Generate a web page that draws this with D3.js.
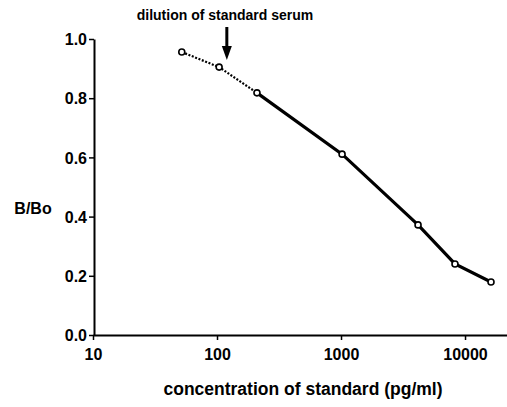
<!DOCTYPE html>
<html>
<head>
<meta charset="utf-8">
<script src="https://cdn.jsdelivr.net/npm/d3@7"></script>
<style>
  body { margin: 0; background: #fff; }
  text { font-family: "Liberation Sans", Arial, sans-serif; font-weight: bold; fill: #000; }
</style>
</head>
<body>
<script>
// standard curve, B/Bo vs concentration
var conc = [52, 104, 210, 1020, 4180, 8300, 16200];
var ratio = [0.956, 0.905, 0.818, 0.611, 0.372, 0.240, 0.179];
var dilutedCount = 3; // first points joined by the dotted line
var xTicks = [10, 100, 1000, 10000];
var yTicks = [0, 0.2, 0.4, 0.6, 0.8, 1.0];
var arrowAt = 120;

var width = 507, height = 407;
var svg = d3.select('body').append('svg')
    .attr('width', width)
    .attr('height', height);

var x = d3.scaleLog().domain([10, 21800]).range([93, 507]);
var y = d3.scaleLinear().domain([0, 1]).range([335, 39]);

var pts = conc.map(function(c, i){ return {c: c, r: ratio[i]}; });

// axes
var xAxis = d3.axisBottom(x).tickValues(xTicks).tickFormat(d3.format('d')).tickSize(5).tickSizeOuter(0).tickPadding(9);
var yAxis = d3.axisLeft(y).tickValues(yTicks).tickFormat(d3.format('.1f')).tickSize(5).tickSizeOuter(0).tickPadding(2);

var gx = svg.append('g').attr('transform', 'translate(0,335)').call(xAxis);
var gy = svg.append('g').attr('transform', 'translate(94,0)').call(yAxis);

[gx, gy].forEach(function(g){
    g.select('.domain').attr('stroke', '#000').attr('stroke-width', 2);
    g.selectAll('.tick line').attr('stroke', '#000').attr('stroke-width', 1.5);
    g.selectAll('.tick text').style('font-size', '16px').style('font-family', '"Liberation Sans", Arial, sans-serif').style('font-weight', 'bold');
});
gy.selectAll('.tick text').attr('dy', '0.36em');

var line = d3.line().x(function(d){ return x(d.c); }).y(function(d){ return y(d.r); });

svg.append('path')
    .datum(pts.slice(0, dilutedCount))
    .attr('d', line)
    .attr('fill', 'none')
    .attr('stroke', '#000')
    .attr('stroke-width', 2.2)
    .attr('stroke-dasharray', '2,1.6');

svg.append('path')
    .datum(pts.slice(dilutedCount - 1))
    .attr('d', line)
    .attr('fill', 'none')
    .attr('stroke', '#000')
    .attr('stroke-width', 3.2);

svg.selectAll('.pt')
    .data(pts)
    .enter()
    .append('circle')
    .attr('class', 'pt')
    .attr('cx', function(d){ return x(d.c); })
    .attr('cy', function(d){ return y(d.r); })
    .attr('r', 3)
    .attr('fill', '#fff')
    .attr('stroke', '#000')
    .attr('stroke-width', 1.6);

// arrow annotation
var ax = x(arrowAt);
svg.append('line')
    .attr('x1', ax).attr('x2', ax)
    .attr('y1', 27).attr('y2', 48)
    .attr('stroke', '#000').attr('stroke-width', 3);
svg.append('path')
    .attr('d', 'M' + (ax - 5) + ',46 L' + (ax + 5) + ',46 L' + ax + ',60 Z')
    .attr('fill', '#000');

svg.append('text')
    .attr('x', 225)
    .attr('y', 20)
    .attr('text-anchor', 'middle')
    .style('font-size', '14px')
    .text('dilution of standard serum');

svg.append('text')
    .attr('x', 33)
    .attr('y', 214)
    .attr('text-anchor', 'middle')
    .style('font-size', '16px')
    .text('B/Bo');

svg.append('text')
    .attr('x', 303)
    .attr('y', 395)
    .attr('text-anchor', 'middle')
    .style('font-size', '17.5px')
    .text('concentration of standard (pg/ml)');
</script>
</body>
</html>
